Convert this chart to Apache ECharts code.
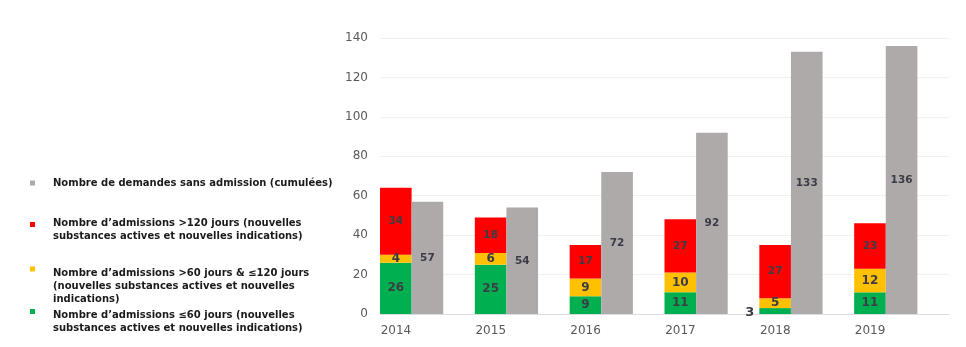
<!DOCTYPE html>
<html><head><meta charset="utf-8">
<script src="https://cdn.jsdelivr.net/npm/echarts@6/dist/echarts.min.js"></script>
<style>html,body{margin:0;padding:0;background:#fff}#c{width:966px;height:347px}</style>
</head><body><div id="c"></div>
<script>
var years = ['2014','2015','2016','2017','2018','2019'];
var green = [26,25,9,11,3,11];
var yellow = [4,6,9,10,5,12];
var red = [34,18,17,27,27,23];
var gray = [57,54,72,92,133,136];
var yTicks = [0,20,40,60,80,100,120,140];
var names = {
  gray: 'Nombre de demandes sans admission (cumulées)',
  red: 'Nombre d\u2019admissions >120 jours (nouvelles substances actives et nouvelles indications)',
  yellow: 'Nombre d\u2019admissions >60 jours & \u2264120 jours (nouvelles substances actives et nouvelles indications)',
  green: 'Nombre d\u2019admissions \u226460 jours (nouvelles substances actives et nouvelles indications)'
};
var legendLines = {};
legendLines[names.gray] = ['Nombre de demandes sans admission (cumulées)'];
legendLines[names.red] = ['Nombre d\u2019admissions >120 jours (nouvelles','substances actives et nouvelles indications)'];
legendLines[names.yellow] = ['Nombre d\u2019admissions >60 jours & \u2264120 jours','(nouvelles substances actives et nouvelles','indications)'];
legendLines[names.green] = ['Nombre d\u2019admissions \u226460 jours (nouvelles','substances actives et nouvelles indications)'];

var F = 'DejaVu Sans, Verdana, sans-serif';
var lblColor = '#3c3c46';
function lbl(size){ return {show:true, position:'inside', color:lblColor, fontFamily:F, fontWeight:'bold', fontSize:size}; }

var greenData = green.map(function(v,i){
  if (v < 4) return {value:v, label:{position:'left', distance:5, offset:[0,2], fontSize:13}};
  return v;
});

// icon: 5x5 square placed at offset sq inside a 5 x h box (keeps it beside the first text line)
function mkLegend(key, top, h, sq){
  var icon = 'path://M0,0M0,' + sq + 'h5v5h-5zM5,' + h;
  return {
    data:[names[key]], left:30, top:top, orient:'vertical', padding:0,
    itemWidth:5, itemHeight:h, icon:icon, selectedMode:false,
    formatter:function(n){ return legendLines[n].join('\n'); },
    textStyle:{fontFamily:F, fontWeight:'bold', fontSize:10, color:'#1a1a1a', lineHeight:13, padding:[0,0,0,13]}
  };
}

var chart = echarts.init(document.getElementById('c'));
chart.setOption({
  animation:false,
  legend:[ mkLegend('gray',176.5,13,4), mkLegend('red',217,26,5), mkLegend('yellow',266.5,39,0), mkLegend('green',308.5,26,0.5) ],
  grid:{left:380, right:17, top:38, bottom:33, containLabel:false},
  xAxis:{
    type:'category', data:years,
    axisLine:{lineStyle:{color:'#d9dde6'}}, axisTick:{show:false},
    axisLabel:{fontFamily:F, fontSize:12, color:'#595959', margin:11, padding:[0,63,0,0]}
  },
  yAxis:{
    type:'value', min:0, max:140, interval:20,
    axisLabel:{fontFamily:F, fontSize:12, color:'#595959', margin:12,
      formatter:function(v){ return yTicks.indexOf(v)>=0 ? String(v) : ''; }},
    splitLine:{lineStyle:{color:'#f0f0f0'}}, axisLine:{show:false}, axisTick:{show:false}
  },
  series:[
    {name:names.green, type:'bar', stack:'a', data:greenData, itemStyle:{color:'#00b050'}, label:lbl(12), barGap:'0%', barCategoryGap:'0%'},
    {name:names.yellow, type:'bar', stack:'a', data:yellow, itemStyle:{color:'#ffc000'}, label:lbl(12)},
    {name:names.red, type:'bar', stack:'a', data:red, itemStyle:{color:'#ff0000'}, label:lbl(10.5)},
    {name:names.gray, type:'bar', data:gray, itemStyle:{color:'#aeaaaa'}, label:lbl(10.5)},
    {name:'_', type:'bar', data:years.map(function(){return null;}), itemStyle:{color:'transparent'}}
  ]
});
</script></body></html>
